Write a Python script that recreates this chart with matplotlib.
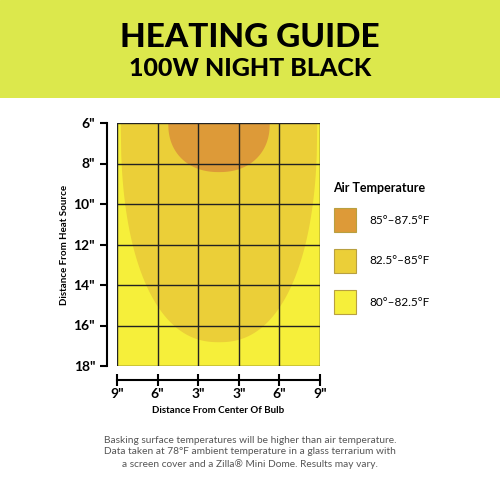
import numpy as np
import matplotlib
matplotlib.use("Agg")
import matplotlib.pyplot as plt
from matplotlib.patches import Rectangle

x_labels = ['9"', '6"', '3"', '3"', '6"', '9"']
y_labels = ['6"', '8"', '10"', '12"', '14"', '16"', '18"']
y_values = [6, 8, 10, 12, 14, 16, 18]
zone_labels = ['85°–87.5°F', '82.5°–85°F', '80°–82.5°F']
zone_colors = ['#dd9a38', '#ebcf38', '#f6ef3a']
# zone extents: half-width (in grid columns) and lower reach (inches)
zone_halfwidth = [1.25, 2.42]
zone_bottom = [8.4, 16.8]
zone_power = [2.2, 2.3]

plt.rcParams['font.family'] = ['Lato', 'DejaVu Sans']
fig = plt.figure(figsize=(5, 5), dpi=100)
fig.patch.set_facecolor('white')

hdr = fig.add_axes([0, 0.804, 1, 0.196])
hdr.set_axis_off()
hdr.add_patch(Rectangle((0, 0), 1, 1, color='#dce84c', transform=hdr.transAxes))
fig.text(0.5, 0.925, 'HEATING GUIDE', ha='center', va='center', fontsize=24, fontweight='black')
fig.text(0.5, 0.862, '100W NIGHT BLACK', ha='center', va='center', fontsize=18, fontweight='black')

ax = fig.add_axes([0.234, 0.268, 0.406, 0.486])
ax.set_xlim(0, 5)
ax.set_ylim(18, 6)
ax.add_patch(Rectangle((0, 6), 5, 12, color=zone_colors[2], zorder=0))
cx = 2.5
for hw, bot, p, col in zip(zone_halfwidth[::-1], zone_bottom[::-1], zone_power[::-1], zone_colors[1::-1]):
    t = np.linspace(-1, 1, 400)
    xs = cx + hw * t
    ys = 6 + (bot - 6) * (1 - np.abs(t) ** p) ** (1 / p)
    ax.fill_between(xs, 6, ys, color=col, lw=0, zorder=1)
for i in range(6):
    ax.axvline(i, color='#222', lw=1, zorder=2)
for v in y_values:
    ax.axhline(v, color='#222', lw=1, zorder=2)
for s in ax.spines.values():
    s.set_visible(False)
ax.set_xticks([])
ax.set_yticks([])

ay = fig.add_axes([0.214, 0.268, 0.001, 0.486])
ay.set_ylim(18, 6)
ay.set_xticks([])
for k in ['top', 'right', 'bottom']:
    ay.spines[k].set_visible(False)
ay.spines['left'].set_linewidth(1.5)
ay.set_yticks(y_values)
ay.set_yticklabels(y_labels, fontsize=10, fontweight='bold')
ay.tick_params(axis='y', length=5, width=1.5)
ay.set_ylabel('Distance From Heat Source', fontsize=7, fontweight='bold', labelpad=3)

axx = fig.add_axes([0.234, 0.24, 0.406, 0.001])
axx.set_xlim(0, 5)
axx.set_yticks([])
for k in ['top', 'right', 'left']:
    axx.spines[k].set_visible(False)
axx.spines['bottom'].set_position(('data', 0))
axx.spines['bottom'].set_linewidth(1.5)
axx.set_xticks(range(6))
axx.set_xticklabels(x_labels, fontsize=10, fontweight='bold')
axx.tick_params(axis='x', direction='inout', length=8, width=1.5, pad=2)
axx.set_xlabel('Distance From Center Of Bulb', fontsize=7, fontweight='bold', labelpad=4)

fig.text(0.666, 0.625, 'Air Temperature', fontsize=9, fontweight='bold', va='center')
for i, (lab, col) in enumerate(zip(zone_labels, zone_colors)):
    yc = 0.56 - i * 0.082
    fig.patches.append(Rectangle((0.668, yc - 0.024), 0.044, 0.048, transform=fig.transFigure,
                                 facecolor=col, edgecolor='#b8a040', lw=0.8))
    fig.text(0.738, yc, lab, fontsize=8.5, va='center')

fig.text(0.5, 0.095, 'Basking surface temperatures will be higher than air temperature.\n'
         'Data taken at 78°F ambient temperature in a glass terrarium with\n'
         'a screen cover and a Zilla® Mini Dome. Results may vary.',
         ha='center', va='center', fontsize=7.3, color='#555', linespacing=1.35)

fig.savefig('out.png', dpi=100)
